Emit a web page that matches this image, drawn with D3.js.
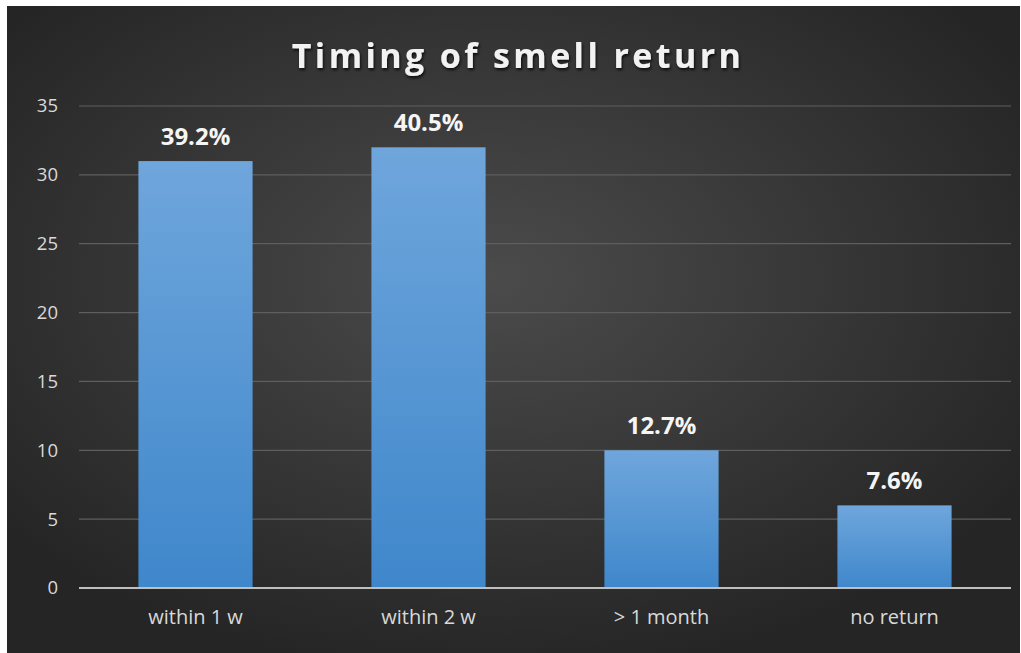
<!DOCTYPE html>
<html>
<head>
<meta charset="utf-8">
<script src="https://cdn.jsdelivr.net/npm/d3@7"></script>
<style>
  body { margin: 0; background: #fff; }
  text { font-family: "Open Sans", "DejaVu Sans", sans-serif; }
</style>
</head>
<body>
<div id="chart"></div>
<script>
// chart data
var categories = ["within 1 w", "within 2 w", "> 1 month", "no return"];
var counts = [31, 32, 10, 6];
var pct_labels = ["39.2%", "40.5%", "12.7%", "7.6%"];
var y_ticks = [0, 5, 10, 15, 20, 25, 30, 35];

var width = 1021, height = 653;

var svg = d3.select("#chart")
    .append("svg")
    .attr("width", width)
    .attr("height", height);

var defs = svg.append("defs");

var bg = defs.append("radialGradient")
    .attr("id", "bg_grad")
    .attr("cx", "48%").attr("cy", "42%").attr("r", "62%");
bg.append("stop").attr("offset", "0%").attr("stop-color", "#4b4b4b");
bg.append("stop").attr("offset", "100%").attr("stop-color", "#252525");

var bar_grad = defs.append("linearGradient")
    .attr("id", "bar_grad")
    .attr("x1", 0).attr("y1", 0).attr("x2", 0).attr("y2", 1);
bar_grad.append("stop").attr("offset", "0%").attr("stop-color", "#6fa6dc");
bar_grad.append("stop").attr("offset", "100%").attr("stop-color", "#3f87cb");

var shadow = defs.append("filter")
    .attr("id", "title_shadow")
    .attr("x", "-10%").attr("y", "-30%").attr("width", "120%").attr("height", "160%");
shadow.append("feDropShadow")
    .attr("dx", 1).attr("dy", 2).attr("stdDeviation", 1.5)
    .attr("flood-color", "#000").attr("flood-opacity", 0.8);

// dark panel
svg.append("rect")
    .attr("x", 7).attr("y", 6)
    .attr("width", 1013).attr("height", 647)
    .attr("fill", "url(#bg_grad)");

svg.append("text")
    .attr("x", 518)
    .attr("y", 68)
    .attr("text-anchor", "middle")
    .attr("fill", "#f2f2f2")
    .attr("font-size", 34)
    .attr("font-weight", "bold")
    .attr("letter-spacing", 3.4)
    .attr("filter", "url(#title_shadow)")
    .text("Timing of smell return");

var x = d3.scaleBand()
    .domain(categories)
    .range([79, 1011])
    .paddingInner(0.51)
    .paddingOuter(0.255);

var y = d3.scaleLinear()
    .domain([0, 35])
    .range([588, 106]);

// gridlines
svg.append("g")
    .selectAll("line")
    .data(y_ticks.filter(function(d) { return d > 0; }))
    .join("line")
    .attr("x1", 79).attr("x2", 1011)
    .attr("y1", function(d) { return y(d); })
    .attr("y2", function(d) { return y(d); })
    .attr("stroke", "#5e5e5e")
    .attr("stroke-width", 1.2);

// y axis labels
var y_axis = svg.append("g")
    .attr("transform", "translate(62,0)")
    .call(d3.axisLeft(y).tickValues(y_ticks).tickSize(0).tickPadding(4));
y_axis.select(".domain").remove();
y_axis.selectAll("text")
    .attr("fill", "#d9d9d9")
    .attr("font-size", 18.5)
    .attr("font-family", "Open Sans, sans-serif");

// bars
svg.append("g")
    .selectAll("rect")
    .data(counts)
    .join("rect")
    .attr("x", function(d, i) { return x(categories[i]); })
    .attr("y", function(d) { return y(d); })
    .attr("width", x.bandwidth())
    .attr("height", function(d) { return y(0) - y(d); })
    .attr("fill", "url(#bar_grad)");

// baseline
svg.append("line")
    .attr("x1", 79).attr("x2", 1011)
    .attr("y1", y(0)).attr("y2", y(0))
    .attr("stroke", "#bfbfbf")
    .attr("stroke-width", 2);

// value labels
svg.append("g")
    .selectAll("text")
    .data(counts)
    .join("text")
    .attr("x", function(d, i) { return x(categories[i]) + x.bandwidth() / 2; })
    .attr("y", function(d) { return y(d) - 16; })
    .attr("text-anchor", "middle")
    .attr("fill", "#f5f5f5")
    .attr("font-size", 24)
    .attr("font-weight", "bold")
    .text(function(d, i) { return pct_labels[i]; });

// category labels
var x_axis = svg.append("g")
    .attr("transform", "translate(0," + y(0) + ")")
    .call(d3.axisBottom(x).tickSize(0).tickPadding(22));
x_axis.select(".domain").remove();
x_axis.selectAll("text")
    .attr("fill", "#d9d9d9")
    .attr("font-size", 20)
    .attr("font-family", "Open Sans, sans-serif");
</script>
</body>
</html>
